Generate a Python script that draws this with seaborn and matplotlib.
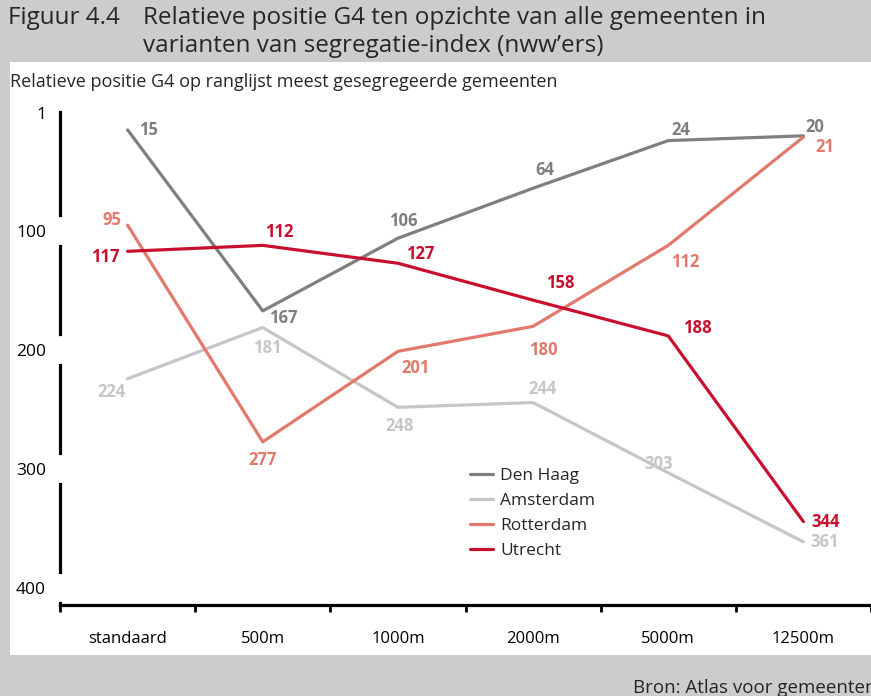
import numpy as np
import pandas as pd
import seaborn as sns
import matplotlib.pyplot as plt
from matplotlib.patches import Rectangle

sns.set_theme(style="white")
plt.rcParams['font.family'] = ['Open Sans', 'DejaVu Sans']

# data: rank of each G4 city per variant of the segregation index
variants = ["standaard", "500m", "1000m", "2000m", "5000m", "12500m"]
cities = ["Den Haag", "Amsterdam", "Rotterdam", "Utrecht"]
den_haag = [15, 167, 106, 64, 24, 20]
amsterdam = [224, 181, 248, 244, 303, 361]
rotterdam = [95, 277, 201, 180, 112, 21]
utrecht = [117, 112, 127, 158, 188, 344]
y_ticks = [1, 100, 200, 300, 400]

colors = {"Den Haag": "#7f7f7f", "Amsterdam": "#c6c6c6",
          "Rotterdam": "#e2796c", "Utrecht": "#c8102e"}

df = pd.DataFrame({
    "variant": variants * 4,
    "x": list(range(len(variants))) * 4,
    "city": np.repeat(cities, len(variants)),
    "rank": den_haag + amsterdam + rotterdam + utrecht,
})

# label offsets in pixels (dx, dy) per city, per point
offsets = {
    "Den Haag": [(21, 0), (21, -7), (5, 17), (12, 18), (13, 11), (11, 9)],
    "Amsterdam": [(-16, -13), (5, -20), (2, -19), (10, 14), (-10, 9), (21, 0)],
    "Rotterdam": [(-16, 5), (0, -18), (18, -17), (10, -24), (17, -17), (21, -10)],
    "Utrecht": [(-22, -6), (16, 13), (22, 9), (27, 17), (29, 8), (22, 0)],
}

fig = plt.figure(figsize=(8.71, 6.96), dpi=100, facecolor="#cccccc")
fig.patches.append(Rectangle((10 / 871, 41 / 696), 1, 593 / 696, transform=fig.transFigure,
                             facecolor="white", edgecolor="none", zorder=-10))

ax = fig.add_axes([60 / 871, 91 / 696, 1 - 60 / 871, 493 / 696])
ax.set_zorder(1)
ax.set_facecolor("none")

sns.lineplot(data=df, x="x", y="rank", hue="city", palette=colors, hue_order=cities,
             lw=2.3, ax=ax, legend=True)

for city in cities:
    sub = df[df.city == city]
    for (xv, yv), (dx, dy) in zip(zip(sub.x, sub["rank"]), offsets[city]):
        ax.annotate(str(yv), (xv, yv), xytext=(dx, dy), textcoords="offset pixels",
                    ha="center", va="center", fontsize=12, fontweight="bold",
                    color=colors[city])

ax.set_xlim(-0.5, 5.5)
ax.set_ylim(414, 0)
ax.set_xticks(range(len(variants)))
ax.set_xticklabels(variants)
ax.set_xticks(np.arange(-0.5, 6, 1), minor=True)
ax.tick_params(axis="x", which="major", length=0, pad=19, labelsize=12, colors="black")
ax.tick_params(axis="x", which="minor", length=5, width=2, direction="out", colors="black", bottom=True)
ax.set_yticks(y_ticks)
ax.tick_params(axis="y", length=6, width=20, direction="inout", colors="white",
               labelcolor="black", labelsize=12.5, pad=7, left=True)
ax.yaxis.get_major_ticks()[0].tick1line.set_visible(False)
ax.yaxis.set_zorder(3)
ax.set_xlabel("")
ax.set_ylabel("")

for s in ["top", "right"]:
    ax.spines[s].set_visible(False)
for s in ["left", "bottom"]:
    ax.spines[s].set_color("black")
    ax.spines[s].set_linewidth(2.3)

leg = ax.legend(title=None, frameon=False, loc="upper left",
                bbox_to_anchor=(470 / 871, 1 - 468 / 696), bbox_transform=fig.transFigure,
                borderaxespad=0, borderpad=0, handlelength=1.35, handletextpad=0.4,
                labelspacing=0.5, fontsize=12.5)

fig.text(8 / 871, 1 - 18 / 696, "Figuur 4.4", fontsize=17.5, va="center", ha="left")
fig.text(143 / 871, 1 - 18 / 696, "Relatieve positie G4 ten opzichte van alle gemeenten in",
         fontsize=17.5, va="center", ha="left")
fig.text(143 / 871, 1 - 46 / 696, "varianten van segregatie-index (nww\u2019ers)",
         fontsize=17.5, va="center", ha="left")
fig.text(10 / 871, 1 - 82 / 696, "Relatieve positie G4 op ranglijst meest gesegregeerde gemeenten",
         fontsize=13, va="center", ha="left")
fig.text(633 / 871, 1 - 688 / 696, "Bron: Atlas voor gemeenten", fontsize=13.5,
         va="center", ha="left")

fig.savefig("out.png", dpi=100, facecolor=fig.get_facecolor())
